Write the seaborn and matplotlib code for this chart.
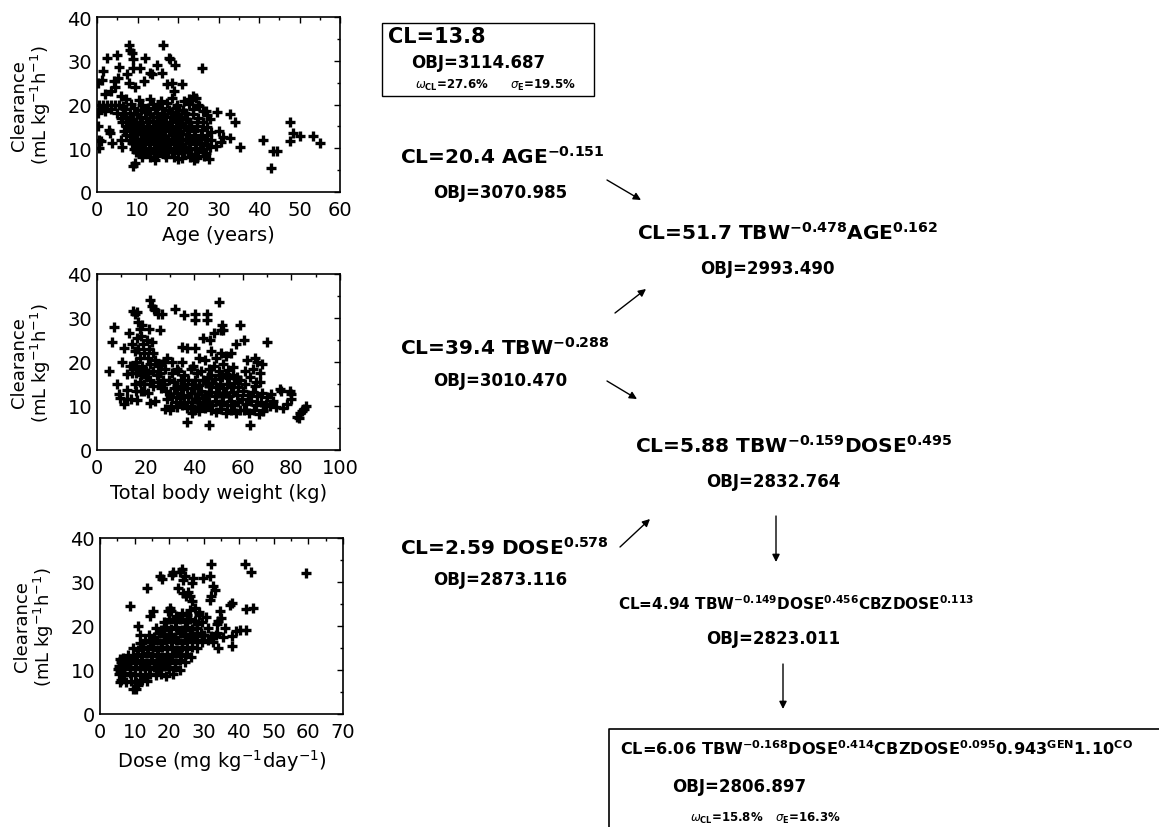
import numpy as np
import pandas as pd
import seaborn as sns
import matplotlib.pyplot as plt
from matplotlib.ticker import MultipleLocator

# ---- clearance vs age (years, mL/kg/h) ----
age_pts = [
    (0.3, 25), (1.2, 25.7), (1.6, 27.6), (2.5, 30.6), (4.9, 31.3), (4.1, 25.4), (3.5, 23), (4.5, 24),
    (5.2, 26), (5.5, 28.5), (6, 22), (2, 22.5), (7.8, 33.6), (8.2, 32.5), (8.6, 31.8), (9, 30.5),
    (9, 28.4), (10.7, 28.4), (7.5, 27), (8, 25), (9.5, 24), (11.9, 30.6), (11.5, 25.4), (13.6, 26.9),
    (13, 27.2), (14.8, 29.1), (16.4, 33.7), (16, 27.2), (17.7, 30.6), (18, 30.5), (19.3, 29.1),
    (17.3, 24.6), (18.5, 25), (21, 24.6), (19, 23), (22.6, 21.3), (23.8, 22), (24.5, 21.5), (26, 28.4),
    (25, 20), (27, 18.5), (29.6, 18.3), (32.9, 17.9), (34, 16), (32.9, 12.3), (31, 12.5), (30, 14),
    (30.5, 11.5), (29.5, 10.5), (35.3, 10.4), (41, 11.9), (43.5, 9.3), (44.5, 9.3), (43, 5.6),
    (47.7, 16), (48.5, 13.4), (50, 12.7), (47.7, 11.6), (53.4, 12.7), (55, 11.2), (9, 6), (9.3, 6.6),
    (0.2, 18), (0.3, 15), (0.5, 12), (0.6, 10), (1, 11.6), (3.3, 13.4), (3.7, 11.2), (3, 14.2),
    (6.2, 10.4), (6, 12),
    (0.5, 20), (1.5, 20), (2.5, 20), (3.5, 20), (4.5, 20), (5.5, 19.8), (6.5, 19.6), (1, 19),
    (2, 18.5), (3.5, 19), (5, 18), (6, 17),
    (7.2, 21.2), (10.4, 21), (13.1, 21.3), (15.8, 20.8), (18.6, 21.4), (21.5, 20.9), (23.4, 21.1),
    (8.3, 20.2), (11.2, 19.8), (13.9, 20.1), (15.1, 19.9), (17.3, 20.3), (19.8, 19.9), (22.6, 20.2), (25.2, 19.6),
    (6.8, 18.9), (9.1, 19.2), (10.9, 18.8), (12.6, 19.1), (14.2, 18.9), (16.1, 19.2), (17.8, 18.8),
    (19.6, 19.1), (21.2, 18.7), (23.8, 18.9), (26.1, 18.6),
    (6.4, 17.9), (8.2, 18.1), (9.9, 17.8), (11.8, 18.2), (13.2, 17.9), (14.9, 18.1), (16.6, 17.8),
    (18.2, 18.2), (20.1, 17.9), (21.8, 18.1), (23.6, 17.8), (27.2, 17.6),
    (7.1, 17.1), (8.9, 16.8), (10.6, 17.2), (12.1, 16.9), (13.8, 17.1), (15.6, 16.8), (17.1, 17.2),
    (18.9, 16.9), (20.6, 17.1), (22.2, 16.8), (24.9, 17), (27.8, 16.6),
    (6.1, 15.9), (7.9, 16.2), (9.6, 15.8), (11.1, 16.1), (12.4, 15.9), (13.9, 16.2), (15.2, 15.8),
    (16.6, 16.1), (18.1, 15.9), (19.4, 16.2), (21.1, 15.8), (22.8, 16.1), (24.6, 15.9), (26.2, 16.1),
    (7.2, 15.1), (8.6, 14.8), (10.1, 15.2), (11.4, 14.9), (12.9, 15.1), (14.4, 14.8), (15.9, 15.2),
    (17.2, 14.9), (18.6, 15.1), (19.9, 14.8), (21.4, 15.2), (23.1, 14.9), (24.8, 15.1), (27.1, 14.8),
    (6.6, 13.9), (8.1, 14.2), (9.4, 13.8), (10.9, 14.1), (12.2, 13.9), (13.6, 14.2), (15.1, 13.8),
    (16.4, 14.1), (17.9, 13.9), (19.1, 14.2), (20.6, 13.8), (22.1, 14.1), (23.9, 13.9), (25.9, 14.2), (28.1, 13.8),
    (7.1, 13.1), (8.6, 12.8), (9.9, 13.2), (11.6, 12.9), (12.9, 13.1), (14.1, 12.8), (15.6, 13.2),
    (16.9, 12.9), (18.4, 13.1), (19.9, 12.8), (21.1, 13.2), (22.6, 12.9), (24.1, 13.1), (25.6, 12.8), (27.2, 13.1),
    (8.1, 11.9), (9.6, 12.2), (10.9, 11.8), (12.1, 12.1), (13.6, 11.9), (14.9, 12.2), (16.1, 11.8),
    (17.6, 12.1), (18.9, 11.9), (20.4, 12.2), (21.9, 11.8), (23.4, 12.1), (24.9, 11.9), (26.6, 12.2), (28.2, 11.8),
    (8.6, 11.1), (10.1, 10.8), (11.4, 11.2), (12.9, 10.9), (14.1, 11.1), (15.6, 10.8), (16.9, 11.2),
    (18.1, 10.9), (19.6, 11.1), (20.9, 10.8), (22.6, 11.2), (24.1, 10.9), (25.4, 11.1), (27.1, 10.8),
    (9.1, 9.9), (10.6, 10.2), (11.9, 9.8), (13.1, 10.1), (14.6, 9.9), (15.9, 10.2), (17.4, 9.8),
    (18.9, 10.1), (20.1, 9.9), (21.6, 10.2), (22.9, 9.8), (24.4, 10.1), (26.1, 9.9), (27.9, 10.2),
    (9.6, 9.1), (11.1, 8.8), (12.6, 9.2), (14.1, 8.9), (15.4, 9.1), (16.9, 8.8), (18.6, 9.2),
    (19.9, 8.9), (21.4, 9.1), (23.1, 8.8), (24.9, 9.2), (26.9, 8.9),
    (11.2, 8.1), (13.1, 7.9), (14.8, 8.2), (17.1, 7.9), (18.9, 8.1), (21.1, 7.8), (22.9, 8.1),
    (24.6, 7.7), (26.4, 8.2), (14.2, 7.4), (20.1, 7.5), (23.9, 7.3), (27.6, 7.6),
]

# ---- clearance vs total body weight (kg) ----
tbw_pts = [
    (4.8, 17.9), (6.8, 28), (6.2, 24.6), (8.2, 14.9), (8.9, 12.7), (11, 23.1), (10.3, 20.1), (11, 10.4),
    (12.3, 11.6), (9.6, 11.9), (13, 26.5), (12.3, 17.2), (15, 31.7), (15.8, 31), (16.3, 31.3), (17, 29),
    (17.8, 27.6), (18.6, 28.5), (21.9, 34), (22.6, 32.8), (23.3, 32.1), (24, 31.8), (25.3, 31),
    (26.7, 30.8), (26, 27.2), (21.2, 27.6), (32.2, 32.1), (35.6, 30.6), (40.4, 31), (40.4, 29.5),
    (45.2, 31), (45.2, 29.5), (50, 33.7), (51.4, 28.4), (51, 27.2), (52, 27.2), (58.9, 28.4),
    (60.3, 25), (61.6, 20.5), (65, 21), (69.9, 24.6), (37, 23.1), (35, 23.5), (40.4, 23.1),
    (39.7, 19), (43.8, 25.4), (46.6, 25), (48, 26.5), (37, 6.3), (45.9, 5.6), (63, 5.6), (75.3, 13.8),
    (75.8, 13.3), (79.5, 13.4), (79.8, 12.8), (78, 10.4), (82.2, 7.5), (83, 7.2), (83.6, 8.3),
    (84.4, 8.9), (85.2, 9.4), (86, 10), (72.6, 11.2), (73.5, 9.8), (71, 10), (76.5, 9.5), (68.5, 9.2),
    (80, 11.5), (14, 11.6), (16.5, 11.4), (19.5, 13.3), (12.5, 13.7), (28, 9.3), (30, 9.1), (22, 10.7),
    (24, 11.2), (67, 17.5), (68, 19.5), (65.5, 15.5), (57, 24), (55, 22), (29, 21), (31, 20),
    (33, 18.5), (26.5, 19.5), (27.5, 20),
    (14.5, 24), (15.5, 22.5), (16, 20), (16.5, 25.5), (17, 23), (17.5, 21), (18, 26), (18.5, 19),
    (19, 24), (19.5, 22), (20, 18), (20.5, 25), (21, 21), (21.5, 23), (22, 19.5), (22.5, 24.5),
    (23, 22), (15, 19), (16, 17.5), (17, 18.5), (18, 17), (19, 18), (20, 16.5), (21, 17.5), (22, 16),
    (23, 18), (24, 20.5), (25, 19), (24.5, 17), (15.5, 15), (17.5, 15.5), (19.5, 15), (18, 13.5),
    (16, 13.5), (21, 13), (23, 14.5), (25, 15.5), (26, 17.5), (27, 16), (14.5, 17.5), (13.5, 19), (26.5, 14),
    (28, 18.5), (31, 17.5), (33.5, 18), (36, 17), (38.5, 18.5), (41, 17.5), (43, 18), (44.5, 20.5),
    (35, 20), (42, 21),
    (27.5, 15), (29.5, 16), (31.5, 15.5), (33, 14.5), (34.5, 16), (36, 15), (37.5, 16), (39, 15),
    (40.5, 15.8), (42, 14.8), (43.5, 16), (45, 15.2),
    (28.5, 13.5), (30, 12.8), (31.5, 14), (33, 13), (34.5, 13.8), (35.5, 12.5), (37, 14), (38.5, 13),
    (40, 14.2), (41.5, 12.8), (43, 13.5), (44.5, 12.5),
    (29, 11.5), (31, 12), (32.5, 11), (34, 11.8), (36, 11), (37.5, 12), (39, 10.8), (40.5, 11.5),
    (42, 11), (43.5, 11.8), (45, 10.8),
    (30.5, 10), (33, 9.8), (35, 10.2), (37, 9.5), (38.5, 10), (40, 9.2), (41.5, 9.8), (43, 10.3),
    (44.5, 9.5), (39, 8.5), (42, 8.8),
    (46, 18.5), (48, 19), (50, 18), (52, 19.5), (54, 18.2), (56, 18.8), (49, 21), (51, 22), (47, 22.5), (53, 21.3),
    (45.5, 16.5), (47, 17), (48.5, 16.2), (50, 17), (51.5, 16.5), (53, 17.2), (54.5, 16.3), (56, 17), (57.5, 16.5),
    (46, 14.5), (47.5, 15.2), (49, 14.3), (50.5, 15), (52, 14.2), (53.5, 15), (55, 14.4), (56.5, 15.2), (58, 14.3),
    (45.5, 12.5), (47, 13.2), (48.5, 12.3), (50, 13), (51.5, 12.2), (53, 13), (54.5, 12.3), (56, 13.1), (57.5, 12.4),
    (46, 11), (47.5, 10.3), (49, 11.2), (50.5, 10.4), (52, 11), (53.5, 10.2), (55, 11.1), (56.5, 10.3), (58, 11),
    (47, 9.2), (49, 8.6), (51, 9.3), (53, 8.5), (55, 9.2), (57, 8.4), (59, 9),
    (59, 16), (61, 15), (63, 16.5), (65, 14.5), (67, 15.5), (60, 13.5), (62, 12.5), (64, 13.2),
    (66, 12.2), (68, 13), (59.5, 11.5), (61.5, 10.5), (63.5, 11.2), (65.5, 10.2), (67.5, 11),
    (69.5, 10.5), (60.5, 9.2), (62.5, 8.5), (64.5, 9), (66.5, 8.2), (68.5, 8.8), (70, 12), (71.5, 12.8),
    (61, 18), (64, 18.5), (66, 20),
]

# ---- clearance vs dose (mg/kg/day) ----
dose_pts = [
    (8.6, 24.5), (11, 20), (11.5, 18), (13.4, 28.7), (15.3, 23.4), (14.4, 22.3), (17.3, 31.3),
    (17.8, 30.7), (21.1, 32.2), (20.6, 31.6), (23.5, 33), (23, 32.3), (20.1, 24.2), (19.6, 23.5),
    (24.4, 31.3), (23.9, 30.4), (26.8, 30.9), (26.4, 29.8), (22.5, 28.7), (25.9, 26.8), (25.4, 27.8),
    (26.4, 25.7), (24.9, 26.8), (24, 27.5), (29.7, 30.9), (31.6, 31.3), (32.1, 34), (32.6, 29),
    (33, 28.2), (32.1, 26.8), (31.6, 26), (34.5, 23.4), (35, 21.9), (34, 21.2), (33.6, 20.5),
    (37.9, 25.3), (37.4, 24.8), (37.9, 17.7), (37.9, 15.5), (39.3, 18.9), (40.3, 19.2), (42.2, 23.8),
    (44, 24.2), (42.2, 19.2), (41.7, 34), (43.6, 32.2), (59.4, 32.1), (33.6, 18.5), (34, 15.1),
    (32.6, 16.3), (9.6, 5.7), (10.5, 5.7), (5.3, 10.2), (5.8, 7.2), (5.8, 12.5), (6.5, 12.8),
    (27.5, 24), (28.5, 22.5), (29.5, 20.8), (30.5, 22), (31, 19.5), (36, 19.5), (35.5, 17.5),
    (30, 18), (28, 20.5), (5.5, 11), (6, 11.8), (5.7, 9.8),
    (6, 7.8), (7.5, 7.2), (9, 7.6), (10.5, 7.2), (12, 7.8), (13.5, 7.5), (11, 6.6), (13, 8.3),
    (5.5, 9), (7, 8.8), (8.5, 9.3), (10, 8.9), (11.5, 9.2), (13, 8.8), (14.5, 9.1), (16, 8.8),
    (17.5, 9.2), (19, 8.7), (21, 9),
    (5.8, 10.5), (7.2, 10.8), (8.6, 10.2), (10, 10.7), (11.4, 10.3), (12.8, 10.8), (14.2, 10.2),
    (15.6, 10.7), (17, 10.3), (18.4, 10.8), (19.8, 10.2), (21.5, 10.6), (23, 10.1),
    (6.2, 12), (7.6, 11.6), (9, 12.2), (10.4, 11.7), (11.8, 12.3), (13.2, 11.6), (14.6, 12.2),
    (16, 11.7), (17.4, 12.3), (18.8, 11.6), (20.2, 12.2), (21.6, 11.7), (23, 12.2), (24.4, 11.8),
    (8, 13.5), (9.4, 13), (10.8, 13.7), (12.2, 13.1), (13.6, 13.8), (15, 13.2), (16.4, 13.6),
    (17.8, 13), (19.2, 13.7), (20.6, 13.1), (22, 13.8), (23.4, 13.2), (24.8, 13.6), (26.2, 13),
    (9.5, 15), (11, 14.6), (12.4, 15.3), (13.8, 14.7), (15.2, 15.2), (16.6, 14.6), (18, 15.3),
    (19.4, 14.7), (20.8, 15.2), (22.2, 14.6), (23.6, 15.3), (25, 14.8), (26.5, 15.2), (28, 15),
    (11.5, 16.2), (13, 16.8), (14.5, 16.3), (16, 16.9), (17.5, 16.2), (19, 16.8), (20.5, 16.3),
    (22, 16.9), (23.5, 16.2), (25, 16.8), (26.5, 16.3), (28, 16.9), (29.5, 16.4), (31, 16.8),
    (14, 18), (15.5, 17.6), (17, 18.3), (18.5, 17.7), (20, 18.2), (21.5, 17.6), (23, 18.3),
    (24.5, 17.7), (26, 18.2), (27.5, 17.7), (29, 18.3), (32, 17.8), (33.5, 18),
    (16, 19.5), (17.5, 19.2), (19, 19.8), (20.5, 19.3), (22, 19.7), (23.5, 19.2), (25, 19.8),
    (26.5, 19.3), (28, 19.6),
    (18.5, 21), (20, 21.6), (21.5, 20.8), (23, 21.5), (24.5, 21), (26, 21.7), (27.5, 21.2),
    (22, 22.3), (25, 22.5), (20.5, 23.3), (23.5, 23), (26, 23.6), (28.5, 23.2),
]

W, H = 1159, 828

sns.set_style('white')
plt.rcParams['font.family'] = ['DejaVu Sans']
plt.rcParams['mathtext.fontset'] = 'dejavusans'
plt.rcParams['text.color'] = 'black'
plt.rcParams['axes.labelcolor'] = 'black'

fig = plt.figure(figsize=(W / 100, H / 100), dpi=100)


def panel(box, pts, xmax, xmajor, xminor, xlabel, label_y):
    l, t, r, b = box
    ax = fig.add_axes([l / W, 1 - b / H, (r - l) / W, (b - t) / H])
    df = pd.DataFrame(pts, columns=['x', 'cl'])
    sns.scatterplot(data=df, x='x', y='cl', ax=ax, marker='+', s=48,
                    color='black', linewidth=2.4)
    ax.set_xlim(0, xmax)
    ax.set_ylim(0, 40)
    ax.xaxis.set_major_locator(MultipleLocator(xmajor))
    ax.xaxis.set_minor_locator(MultipleLocator(xminor))
    ax.yaxis.set_major_locator(MultipleLocator(10))
    ax.yaxis.set_minor_locator(MultipleLocator(5))
    ax.tick_params(which='both', direction='in', top=True, right=True,
                   labelsize=14, colors='black')
    ax.tick_params(which='major', length=4, width=1)
    ax.tick_params(which='minor', length=2.5, width=1)
    ax.tick_params(axis='x', pad=6)
    for s in ax.spines.values():
        s.set_linewidth(1.2)
        s.set_color('black')
    ax.set_xlabel(xlabel, fontsize=14)
    ax.xaxis.set_label_coords(0.5, label_y)
    ax.set_ylabel('Clearance\n(mL kg$^{-1}$h$^{-1}$)', fontsize=13, linespacing=1.05)
    ax.yaxis.set_label_coords(-0.18, 0.5)
    return ax


panel((97, 18, 340, 193), age_pts, 60, 10, 5, 'Age (years)', -0.19)
panel((97, 275, 340, 451), tbw_pts, 100, 20, 10, 'Total body weight (kg)', -0.19)
panel((100, 539, 343, 715), dose_pts, 70, 10, 5, 'Dose (mg kg$^{-1}$day$^{-1}$)', -0.19)

# model-building tree, drawn in pixel coordinates
ov = fig.add_axes([0, 0, 1, 1])
ov.set_xlim(0, W)
ov.set_ylim(H, 0)
ov.axis('off')


def term(base, exp):
    return r'\mathbf{%s}^{\mathbf{%s}}' % (base, exp)


def put(x, y, s, size=14.5):
    ov.text(x, y, s, fontsize=size, fontweight='bold', ha='left', va='center')


def arrow(x0, y0, x1, y1):
    ov.annotate('', xy=(x1, y1), xytext=(x0, y0),
                arrowprops=dict(arrowstyle='-|>', color='black', lw=1.0,
                                mutation_scale=11, shrinkA=0, shrinkB=0))


ov.add_patch(plt.Rectangle((382, 24), 212, 73, fill=False, lw=1.0, ec='black'))
put(388, 37, 'CL=13.8', 15)
put(411, 63, 'OBJ=3114.687', 12)
put(415, 85, r'$\omega_{\mathbf{CL}}$=27.6%', 8.5)
put(510, 85, r'$\sigma_{\mathbf{E}}$=19.5%', 8.5)

put(400, 157, 'CL=20.4 $' + term('AGE', '-0.151') + '$')
put(433, 193, 'OBJ=3070.985', 12)
arrow(607, 181, 641, 201)

put(637, 233, 'CL=51.7 $' + term('TBW', '-0.478') + term('AGE', '0.162') + '$')
put(700, 269, 'OBJ=2993.490', 12)
arrow(615, 314, 646, 290)

put(400, 348, 'CL=39.4 $' + term('TBW', '-0.288') + '$')
put(433, 381, 'OBJ=3010.470', 12)
arrow(607, 382, 637, 400)

put(635, 446, 'CL=5.88 $' + term('TBW', '-0.159') + term('DOSE', '0.495') + '$')
put(706, 482, 'OBJ=2832.764', 12)
arrow(776, 517, 776, 563)

put(400, 548, 'CL=2.59 $' + term('DOSE', '0.578') + '$')
put(433, 580, 'OBJ=2873.116', 12)
arrow(620, 548, 650, 520)

put(618, 604, 'CL=4.94 $' + term('TBW', '-0.149') + term('DOSE', '0.456')
    + term('CBZDOSE', '0.113') + '$', 11)
put(706, 639, 'OBJ=2823.011', 12)
arrow(783, 665, 783, 710)

ov.plot([609, 609, W], [H, 730, 730], color='black', lw=1.2, clip_on=False)
put(620, 749, 'CL=6.06 $' + term('TBW', '-0.168') + term('DOSE', '0.414')
    + term('CBZDOSE', '0.095') + term('0.943', 'GEN') + term('1.10', 'CO') + '$', 11.6)
put(672, 787, 'OBJ=2806.897', 12)
put(690, 818, r'$\omega_{\mathbf{CL}}$=15.8%', 8.5)
put(775, 818, r'$\sigma_{\mathbf{E}}$=16.3%', 8.5)

fig.savefig('out.png', dpi=100)
